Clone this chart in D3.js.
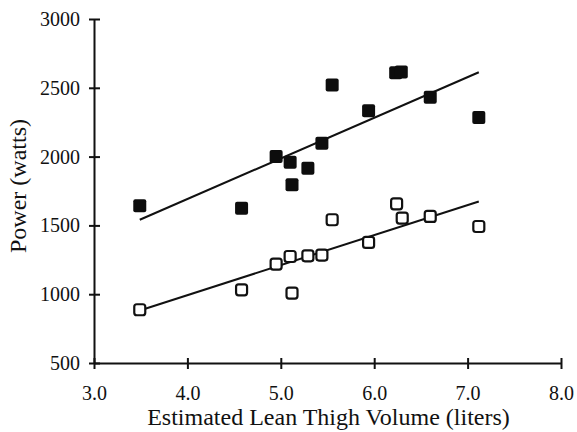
<!DOCTYPE html>
<html>
<head>
<meta charset="utf-8">
<script src="https://cdn.jsdelivr.net/npm/d3@7"></script>
<style>
  html, body { margin: 0; padding: 0; background: #fff; }
  svg { display: block; }
  text { font-family: "Liberation Serif", "Times New Roman", serif; fill: #111; }
</style>
</head>
<body>
<svg id="chart" width="577" height="432"></svg>
<script>
// Data
const volume = [3.49, 4.58, 4.95, 5.10, 5.12, 5.29, 5.44, 5.55, 5.94, 6.23, 6.29, 6.60, 7.12];
const volumeOpen = [3.49, 4.58, 4.95, 5.10, 5.12, 5.29, 5.44, 5.55, 5.94, 6.24, 6.30, 6.60, 7.12];
const powerFilled = [1642, 1625, 2000, 1959, 1795, 1916, 2097, 2521, 2334, 2610, 2615, 2431, 2284];
const powerOpen = [887, 1032, 1219, 1274, 1008, 1279, 1284, 1541, 1376, 1657, 1553, 1565, 1492];
// regression line endpoints [x, y]
const fitFilled = [[3.49, 1541], [7.12, 2613]];
const fitOpen = [[3.49, 882], [7.12, 1674]];
const xTicks = [3, 4, 5, 6, 7, 8];
const yTicks = [500, 1000, 1500, 2000, 2500, 3000];

const svg = d3.select("#chart");
const x = d3.scaleLinear().domain([3, 8]).range([94, 561]);
const y = d3.scaleLinear().domain([500, 3000]).range([363, 19]);

// Y axis
const yAxis = d3.axisLeft(y).tickValues(yTicks).tickSizeInner(0).tickSizeOuter(0).tickPadding(14)
  .tickFormat(d3.format("d"));
const gy = svg.append("g").attr("transform", `translate(${x(3)},0)`).call(yAxis);
gy.select(".domain").attr("stroke", "#111").attr("stroke-width", 2);
gy.selectAll(".tick line").remove();
gy.selectAll(".tick").append("line").attr("x1", -5).attr("x2", 6).attr("stroke", "#111").attr("stroke-width", 2);
gy.selectAll(".tick text").attr("font-size", 20).attr("font-family", "Liberation Serif").attr("fill", "#111");

// X axis
const xAxis = d3.axisBottom(x).tickValues(xTicks).tickSizeInner(0).tickSizeOuter(0).tickPadding(23)
  .tickFormat(d3.format(".1f"));
const gx = svg.append("g").attr("transform", `translate(0,${y(500)})`).call(xAxis);
gx.select(".domain").attr("stroke", "#111").attr("stroke-width", 2);
gx.selectAll(".tick line").remove();
gx.selectAll(".tick").append("line").attr("y1", -5).attr("y2", 6).attr("stroke", "#111").attr("stroke-width", 2);
gx.selectAll(".tick text").attr("font-size", 20).attr("font-family", "Liberation Serif").attr("fill", "#111");

// Axis titles
svg.append("text").attr("x", (x(3) + x(8)) / 2 + 1).attr("y", 425).attr("text-anchor", "middle")
  .attr("font-size", 24).text("Estimated Lean Thigh Volume (liters)");
svg.append("text").attr("transform", `translate(26,${186}) rotate(-90)`).attr("text-anchor", "middle")
  .attr("font-size", 24).text("Power (watts)");

// Regression lines
const line = d3.line().x(d => x(d[0])).y(d => y(d[1]));
svg.append("path").datum(fitFilled).attr("d", line).attr("fill", "none").attr("stroke", "#111").attr("stroke-width", 2);
svg.append("path").datum(fitOpen).attr("d", line).attr("fill", "none").attr("stroke", "#111").attr("stroke-width", 2);

// Points
const s = 13;
svg.append("g").selectAll("rect").data(volume.map((v, i) => [v, powerFilled[i]])).join("rect")
  .attr("x", d => x(d[0]) - s / 2).attr("y", d => y(d[1]) - s / 2)
  .attr("width", s).attr("height", s).attr("rx", 2).attr("fill", "#0d0d0d");
const so = 11;
svg.append("g").selectAll("rect").data(volumeOpen.map((v, i) => [v, powerOpen[i]])).join("rect")
  .attr("x", d => x(d[0]) - so / 2).attr("y", d => y(d[1]) - so / 2)
  .attr("width", so).attr("height", so).attr("rx", 2.5).attr("fill", "#fff")
  .attr("stroke", "#111").attr("stroke-width", 2.2);
</script>
</body>
</html>
